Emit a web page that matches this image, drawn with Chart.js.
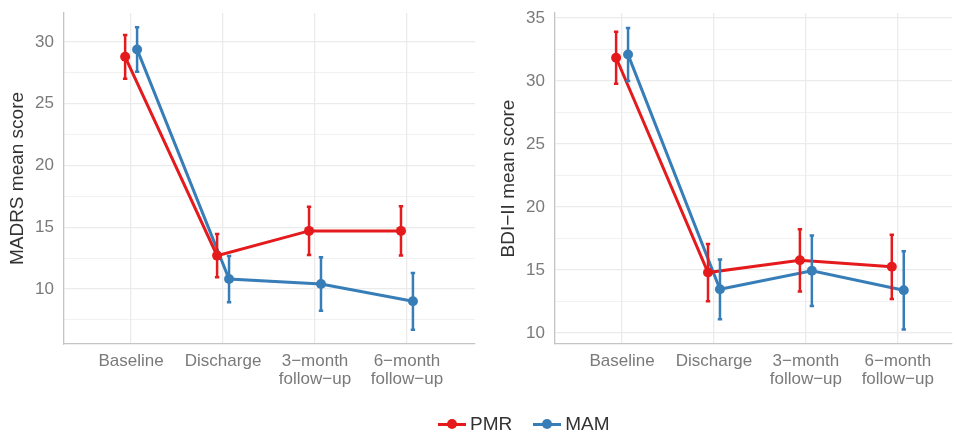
<!DOCTYPE html>
<html>
<head>
<meta charset="utf-8">
<script src="https://cdn.jsdelivr.net/npm/chart.js@4.4.1/dist/chart.umd.min.js"></script>
<style>
body { margin: 0; background: #fff; }
#wrap { position: relative; width: 957px; height: 437px; overflow: hidden; }
canvas { position: absolute; top: 0; }
#left { left: 0; }
#right { left: 480px; }
#legend { position: absolute; left: 438px; top: 412px; height: 24px; display: flex; align-items: center;
  font-family: "Liberation Sans", Arial, sans-serif; font-size: 19px; color: #333; }
.key { position: relative; width: 28px; height: 24px; margin-right: 4px; }
.key::before { content: ''; position: absolute; left: 0; right: 0; top: 10.5px; height: 3px; background: var(--c); }
.key::after { content: ''; position: absolute; left: 9px; top: 7px; width: 10px; height: 10px; border-radius: 50%; background: var(--c); }
</style>
</head>
<body>
<div id="wrap">
  <canvas id="left" width="480" height="437"></canvas>
  <canvas id="right" width="477" height="437"></canvas>
  <div id="legend">
    <span class="key" style="--c:#E41A1C"></span><span style="margin-right:21px">PMR</span>
    <span class="key" style="--c:#377EB8"></span><span>MAM</span>
  </div>
</div>
<script>
// data (mean and half-width of error bar)
var categories = ['Baseline', 'Discharge', ['3\u2212month', 'follow\u2212up'], ['6\u2212month', 'follow\u2212up']];

var madrsPMR = [28.8, 12.7, 14.7, 14.7];
var madrsPMRErr = [1.77, 1.75, 1.96, 2.0];
var madrsMAM = [29.4, 10.8, 10.4, 9.0];
var madrsMAMErr = [1.8, 1.87, 2.17, 2.3];

var bdiPMR = [31.85, 14.8, 15.77, 15.26];
var bdiPMRErr = [2.07, 2.27, 2.47, 2.55];
var bdiMAM = [32.1, 13.47, 14.95, 13.39];
var bdiMAMErr = [2.1, 2.37, 2.8, 3.1];

var RED = '#E41A1C', BLUE = '#377EB8';
var FONT = '"Liberation Sans", Arial, sans-serif';
var dodge = 0.065;

Chart.defaults.font.family = FONT;

var errorBars = {
	id: 'errorBars',
	afterDatasetsDraw: function(chart) {
		var ctx = chart.ctx;
		var xs = chart.scales.x, ys = chart.scales.y;
		chart.data.datasets.forEach(function(ds) {
			ctx.save();
			ctx.strokeStyle = ds.borderColor;
			ctx.lineWidth = 2.5;
			ds.data.forEach(function(p, i) {
				var x = xs.getPixelForValue(p.x);
				var yt = ys.getPixelForValue(p.y + ds.errors[i]);
				var yb = ys.getPixelForValue(p.y - ds.errors[i]);
				ctx.beginPath();
				ctx.moveTo(x, yt); ctx.lineTo(x, yb);
				ctx.moveTo(x - 2.2, yt); ctx.lineTo(x + 2.2, yt);
				ctx.moveTo(x - 2.2, yb); ctx.lineTo(x + 2.2, yb);
				ctx.stroke();
			});
			ctx.restore();
		});
	}
};

function toPoints(vals, off) {
	return vals.map(function(v, i) { return { x: i + off, y: v }; });
}

function makeChart(id, title, pmr, pmrErr, mam, mamErr, yMin, yMax, xMax, padLeft) {
	var ctx = document.getElementById(id).getContext('2d');
	return new Chart(ctx, {
		type: 'line',
		data: {
			datasets: [
				{ label: 'PMR', data: toPoints(pmr, -dodge), errors: pmrErr, borderColor: RED, backgroundColor: RED,
				  borderWidth: 3, pointRadius: 5, pointBorderWidth: 0, tension: 0 },
				{ label: 'MAM', data: toPoints(mam, dodge), errors: mamErr, borderColor: BLUE, backgroundColor: BLUE,
				  borderWidth: 3, pointRadius: 5, pointBorderWidth: 0, tension: 0 }
			]
		},
		options: {
			responsive: false,
			animation: false,
			devicePixelRatio: 1,
			layout: { padding: { top: 13, left: padLeft, right: 0, bottom: 0 } },
			plugins: { legend: { display: false }, tooltip: { enabled: false } },
			scales: {
				x: {
					type: 'linear',
					min: -0.73,
					max: xMax,
					afterBuildTicks: function(s) { s.ticks = [0, 1, 2, 3].map(function(v) { return { value: v }; }); },
					afterFit: function(s) { s.height = 93; s.paddingLeft = 0; s.paddingRight = 0; },
					grid: { color: '#ebebeb', lineWidth: 1.3, drawTicks: false },
					border: { display: true, color: '#c4c4c4', width: 1.3 },
					ticks: {
						autoSkip: false, maxRotation: 0, padding: 8, color: '#7a7a7a',
						font: { size: 17, lineHeight: 1.08 },
						callback: function(v) { return categories[v]; }
					}
				},
				y: {
					min: yMin,
					max: yMax,
					afterBuildTicks: function(s) {
						var t = [];
						for (var v = Math.ceil(yMin / 2.5) * 2.5; v <= yMax; v += 2.5) t.push({ value: v });
						s.ticks = t;
					},
					afterFit: function(s) { s.width = 64; s.paddingTop = 0; s.paddingBottom = 0; },
					grid: {
						color: '#ebebeb', drawTicks: false,
						lineWidth: function(c) { return c.tick && c.tick.value % 5 === 0 ? 1.3 : 0.7; }
					},
					border: { display: true, color: '#c4c4c4', width: 1.3 },
					ticks: {
						padding: 10, color: '#7a7a7a', font: { size: 17 },
						callback: function(v) { return v % 5 === 0 ? v : ''; }
					},
					title: { display: true, text: title, color: '#333', font: { size: 19 }, padding: { top: 6, bottom: 0 } }
				}
			}
		},
		plugins: [errorBars]
	});
}

makeChart('left', 'MADRS mean score', madrsPMR, madrsPMRErr, madrsMAM, madrsMAMErr, 5.54, 32.35, 3.74, 0);
makeChart('right', 'BDI\u2212II mean score', bdiPMR, bdiPMRErr, bdiMAM, bdiMAMErr, 9.13, 35.4, 3.59, 11);
</script>
</body>
</html>
